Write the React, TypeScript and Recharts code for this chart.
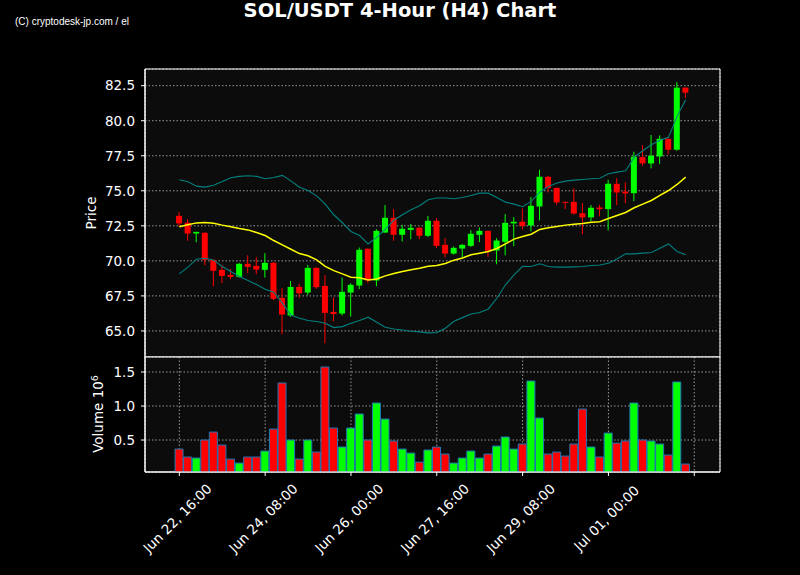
import React from "react";
import { Bar, CartesianGrid, Cell, ComposedChart, Line, ReferenceArea, XAxis, YAxis } from "recharts";

const GREEN = "#00ff00";
const RED = "#ff0000";
const TEAL = "#008080";
const FONT = "DejaVu Sans, sans-serif";

// 4-hour candles, Jun 22 16:00 onwards
const opens = [73.21, 72.72, 71.95, 72.0, 70.07, 69.36, 69.0, 68.86, 69.79, 69.64, 69.36, 69.86, 67.36, 66.1, 68.14, 67.74, 69.5, 68.21, 66.36, 66.24, 67.74, 68.24, 70.86, 68.6, 72.02, 73.07, 71.86, 72.21, 72.36, 71.79, 72.86, 71.14, 70.52, 70.88, 71.07, 71.86, 72.14, 70.74, 71.36, 72.67, 72.79, 72.52, 73.88, 76.0, 75.21, 74.21, 74.21, 73.4, 73.1, 73.81, 73.69, 75.5, 74.95, 74.83, 77.4, 76.95, 77.45, 78.71, 77.93, 82.36];
const highs = [73.5, 72.98, 72.07, 72.05, 70.1, 69.69, 69.41, 69.85, 70.4, 70.26, 70.55, 69.93, 68.05, 68.57, 68.36, 69.71, 69.55, 68.98, 67.4, 68.81, 68.4, 70.95, 70.9, 72.26, 73.98, 73.69, 72.57, 72.64, 72.4, 73.21, 73.05, 71.62, 71.02, 71.2, 72.19, 72.38, 72.16, 71.62, 73.33, 73.12, 73.74, 74.55, 76.5, 76.05, 75.23, 74.23, 75.17, 74.12, 73.98, 74.0, 75.79, 75.9, 75.6, 77.79, 78.26, 78.98, 78.95, 78.73, 82.76, 82.38];
const lows = [72.45, 71.43, 71.33, 69.69, 68.19, 68.41, 68.69, 68.8, 69.12, 69.05, 68.81, 67.2, 64.76, 66.0, 67.36, 67.55, 68.0, 64.12, 65.69, 66.1, 66.03, 67.98, 68.4, 68.19, 72.0, 71.43, 71.38, 71.55, 71.55, 71.7, 70.9, 70.24, 70.45, 70.24, 71.0, 71.33, 70.26, 69.76, 70.4, 71.05, 72.23, 72.1, 72.88, 74.88, 74.0, 73.69, 73.31, 71.9, 72.81, 73.17, 72.17, 73.98, 74.12, 74.26, 76.79, 76.6, 76.9, 77.6, 77.86, 81.62];
const closes = [72.67, 71.95, 72.07, 70.07, 69.29, 68.93, 68.86, 69.79, 69.57, 69.38, 69.86, 67.29, 66.17, 68.14, 67.69, 69.5, 68.12, 66.29, 66.21, 67.79, 68.29, 70.79, 68.6, 72.14, 73.07, 71.86, 72.29, 72.36, 71.79, 72.86, 71.07, 70.52, 70.93, 71.14, 71.93, 72.14, 70.71, 71.45, 72.71, 72.79, 72.5, 73.93, 76.0, 75.19, 74.17, 74.14, 73.38, 73.1, 73.79, 73.69, 75.5, 74.88, 74.81, 77.43, 76.95, 77.5, 78.71, 77.93, 82.36, 82.0];
// volume in millions
const volumes = [0.367, 0.25, 0.235, 0.5, 0.617, 0.426, 0.22, 0.161, 0.25, 0.25, 0.338, 0.661, 1.338, 0.5, 0.22, 0.5, 0.323, 1.573, 0.676, 0.397, 0.676, 0.882, 0.5, 1.044, 0.808, 0.485, 0.367, 0.308, 0.176, 0.353, 0.397, 0.294, 0.161, 0.235, 0.338, 0.235, 0.294, 0.411, 0.544, 0.367, 0.441, 1.367, 0.823, 0.294, 0.323, 0.264, 0.441, 0.955, 0.397, 0.25, 0.602, 0.455, 0.485, 1.044, 0.5, 0.485, 0.441, 0.279, 1.353, 0.147];
// bollinger bands
const sma = [72.43, 72.57, 72.71, 72.74, 72.69, 72.55, 72.43, 72.31, 72.21, 72.02, 71.81, 71.45, 71.14, 70.83, 70.52, 70.36, 70.07, 69.6, 69.3, 69.07, 68.83, 68.79, 68.64, 68.71, 68.93, 69.1, 69.24, 69.36, 69.48, 69.62, 69.67, 69.81, 70.05, 70.21, 70.43, 70.55, 70.67, 70.88, 71.21, 71.55, 71.74, 71.9, 72.24, 72.36, 72.45, 72.55, 72.62, 72.67, 72.76, 72.79, 73.02, 73.24, 73.45, 73.79, 74.05, 74.31, 74.67, 75.02, 75.45, 75.97];
const upper = [75.79, 75.64, 75.33, 75.26, 75.4, 75.67, 75.93, 76.03, 76.07, 76.03, 75.86, 75.95, 76.1, 75.71, 75.26, 75.02, 74.64, 74.05, 73.29, 72.72, 72.1, 71.81, 71.21, 71.67, 72.26, 72.9, 73.29, 73.64, 73.93, 74.36, 74.48, 74.48, 74.43, 74.52, 74.67, 74.83, 74.83, 74.52, 74.19, 74.05, 73.86, 74.24, 74.9, 75.31, 75.55, 75.69, 75.76, 75.81, 75.86, 75.9, 76.21, 76.33, 76.43, 77.38, 77.86, 78.29, 78.6, 78.81, 80.31, 81.5];
const lower = [69.07, 69.55, 70.12, 70.19, 70.05, 69.6, 69.24, 68.88, 68.6, 68.31, 67.98, 67.76, 66.98, 66.14, 65.9, 65.74, 65.67, 65.55, 65.24, 65.31, 65.55, 65.74, 65.98, 65.62, 65.26, 65.14, 65.07, 64.98, 64.93, 64.86, 64.88, 65.19, 65.69, 65.95, 66.21, 66.31, 66.57, 67.33, 68.29, 69.0, 69.61, 69.6, 69.79, 69.6, 69.55, 69.55, 69.57, 69.6, 69.67, 69.71, 69.83, 70.14, 70.5, 70.5, 70.55, 70.6, 70.9, 71.21, 70.67, 70.43];

const xTicks = [0, 10, 20, 30, 40, 50, 60];
const xTickLabels = ["Jun 22, 16:00", "Jun 24, 08:00", "Jun 26, 00:00", "Jun 27, 16:00", "Jun 29, 08:00", "Jul 01, 00:00", ""];
const priceTicks = [65, 67.5, 70, 72.5, 75, 77.5, 80, 82.5];
const volumeTicks = [0.5, 1.0, 1.5];

const X_DOMAIN: [number, number] = [-4, 63];
const PRICE_DOMAIN: [number, number] = [63.14, 83.69];
const VOL_DOMAIN: [number, number] = [0.03, 1.72];

const rows = opens.map((open, i) => ({
  i,
  open,
  high: highs[i],
  low: lows[i],
  close: closes[i],
  range: [lows[i], highs[i]],
  vol: volumes[i],
  sma: sma[i],
  upper: upper[i],
  lower: lower[i],
  up: closes[i] >= open,
}));

function Candle(props: any) {
  const { x, y, width, height, payload } = props;
  const top = Math.min(y, y + height);
  const h = Math.abs(height);
  const span = payload.high - payload.low || 1;
  const py = (v: number) => top + ((payload.high - v) / span) * h;
  const color = payload.close >= payload.open ? GREEN : RED;
  const cx = x + width / 2;
  const bTop = py(Math.max(payload.open, payload.close));
  const bBot = py(Math.min(payload.open, payload.close));
  return (
    <g>
      <line x1={cx} x2={cx} y1={top} y2={top + h} stroke={color} strokeWidth={1} />
      <rect x={x} y={bTop} width={width} height={Math.max(bBot - bTop, 1)} fill={color} />
    </g>
  );
}

function DateTick(props: any) {
  const { x, y, payload } = props;
  const label = xTickLabels[xTicks.indexOf(payload.value)] ?? "";
  return (
    <text
      x={0}
      y={0}
      textAnchor="middle"
      dominantBaseline="central"
      fill="#fff"
      fontSize={13.5}
      fontFamily={FONT}
      transform={`translate(${x - 2},${y + 40}) rotate(-45)`}
    >
      {label}
    </text>
  );
}

const gridProps = { stroke: "#999", strokeDasharray: "1.5 2", fill: "#0c0c0c", fillOpacity: 1 };
const tickStyle = { fill: "#fff", fontSize: 13.5, fontFamily: FONT };

export default function App() {
  return (
    <div style={{ position: "absolute", left: 0, top: 0, width: 800, height: 575, background: "#000", overflow: "hidden" }}>
      <div style={{ position: "absolute", left: 0, top: 0 }}>
        <ComposedChart width={800} height={360} data={rows} margin={{ top: 69, right: 80, bottom: 3, left: 85 }}>
          <CartesianGrid {...gridProps} />
          <XAxis dataKey="i" type="number" domain={X_DOMAIN} ticks={xTicks} height={0} tick={false} tickLine={false} axisLine={false} allowDataOverflow />
          <YAxis
            type="number"
            domain={PRICE_DOMAIN}
            ticks={priceTicks}
            allowDataOverflow
            width={60}
            tick={tickStyle}
            tickFormatter={(v: number) => v.toFixed(1)}
            tickLine={{ stroke: "#fff" }}
            axisLine={{ stroke: "#fff" }}
            tickSize={4}
            tickMargin={6}
            interval={0}
          />
          <Line dataKey="upper" stroke={TEAL} strokeWidth={1.1} dot={false} isAnimationActive={false} />
          <Line dataKey="lower" stroke={TEAL} strokeWidth={1.1} dot={false} isAnimationActive={false} />
          <Line dataKey="sma" stroke="#ffff00" strokeWidth={1.5} dot={false} isAnimationActive={false} />
          <Bar dataKey="range" shape={Candle} barSize={6} isAnimationActive={false} />
          <ReferenceArea x1={X_DOMAIN[0]} x2={X_DOMAIN[1]} y1={PRICE_DOMAIN[0]} y2={PRICE_DOMAIN[1]} fill="none" stroke="#fff" strokeWidth={1} />
        </ComposedChart>
      </div>
      <div style={{ position: "absolute", left: 0, top: 350 }}>
        <ComposedChart width={800} height={225} data={rows} margin={{ top: 7, right: 80, bottom: 3, left: 85 }}>
          <CartesianGrid {...gridProps} />
          <XAxis
            dataKey="i"
            type="number"
            domain={X_DOMAIN}
            ticks={xTicks}
            allowDataOverflow
            interval={0}
            height={100}
            tick={<DateTick />}
            tickLine={{ stroke: "#fff" }}
            axisLine={{ stroke: "#fff" }}
            tickSize={4}
          />
          <YAxis
            type="number"
            domain={VOL_DOMAIN}
            ticks={volumeTicks}
            allowDataOverflow
            width={60}
            tick={tickStyle}
            tickFormatter={(v: number) => v.toFixed(1)}
            tickLine={{ stroke: "#fff" }}
            axisLine={{ stroke: "#fff" }}
            tickSize={4}
            tickMargin={6}
            interval={0}
          />
          <Bar dataKey="vol" barSize={8} stroke="#1f77b4" strokeWidth={1} isAnimationActive={false}>
            {rows.map((r) => (
              <Cell key={r.i} fill={r.up ? GREEN : RED} />
            ))}
          </Bar>
          <ReferenceArea x1={X_DOMAIN[0]} x2={X_DOMAIN[1]} y1={VOL_DOMAIN[0]} y2={VOL_DOMAIN[1]} fill="none" stroke="#fff" strokeWidth={1} />
        </ComposedChart>
      </div>
      <svg width={800} height={575} style={{ position: "absolute", left: 0, top: 0, pointerEvents: "none" }}>
        <text x={400} y={17} textAnchor="middle" fill="#fff" fontSize={19.5} fontWeight="bold" fontFamily={FONT}>
          SOL/USDT 4-Hour (H4) Chart
        </text>
        <text x={15} y={25} fill="#fff" fontSize={10} fontFamily="Liberation Sans, Arial, sans-serif">
          (C) cryptodesk-jp.com / el
        </text>
        <text x={0} y={0} textAnchor="middle" fill="#fff" fontSize={13.5} fontFamily={FONT} transform="translate(96,213) rotate(-90)">
          Price
        </text>
        <text x={0} y={0} textAnchor="middle" fill="#fff" fontSize={13.5} fontFamily={FONT} transform="translate(103,414) rotate(-90)">
          Volume 10<tspan dy={-5} fontSize={9.5}>6</tspan>
        </text>
      </svg>
    </div>
  );
}
